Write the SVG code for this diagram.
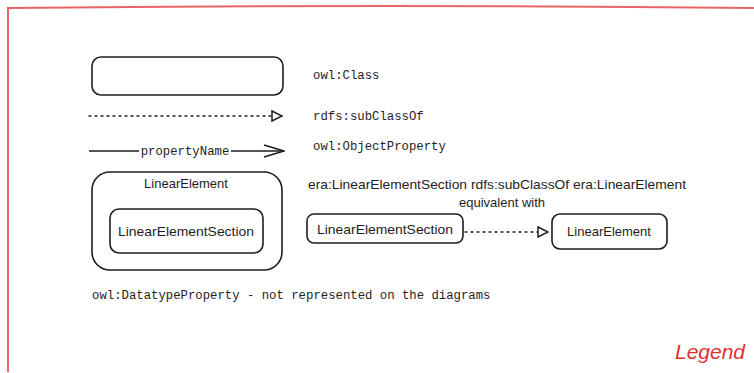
<svg xmlns="http://www.w3.org/2000/svg" width="754" height="373" viewBox="0 0 754 373">
<defs>
<style>
.box{fill:#fff;stroke:#1e1e1e;stroke-width:1.6}
.mono{font-family:"Liberation Mono","DejaVu Sans Mono",monospace;font-size:12.3px;fill:#1e1e1e}
.hand{font-family:"Liberation Sans","DejaVu Sans",sans-serif;font-size:13px;fill:#1e1e1e}
.edge{fill:none;stroke:#1e1e1e;stroke-width:1.4}
.dot{stroke-dasharray:2 4;stroke-linecap:round}
</style>
<marker id="tri" viewBox="0 0 12 12" refX="11" refY="6" markerWidth="12" markerHeight="12" markerUnits="userSpaceOnUse" orient="auto">
<path d="M1,1 L11,6 L1,11 Z" fill="#fff" stroke="#1e1e1e" stroke-width="1.5"/>
</marker>
<marker id="open" viewBox="0 0 22 14" refX="21" refY="7" markerWidth="22" markerHeight="14" markerUnits="userSpaceOnUse" orient="auto">
<path d="M1,1 L21,7 L1,13" fill="none" stroke="#1e1e1e" stroke-width="1.5"/>
</marker>
</defs>
<rect width="754" height="373" fill="#fff"/>
<path id="frame" d="M8,372 L8,8 Q380,4 760,8" fill="none" stroke="#e03131" stroke-opacity="0.75" stroke-width="2"/>
<g id="legend-class">
<rect class="box" x="92" y="57" width="191" height="38" rx="9"/>
</g>
<text class="mono" x="313" y="79">owl:Class</text>
<g id="connectors">
<line class="edge dot" x1="89" y1="116" x2="282" y2="116" marker-end="url(#tri)"/>
<line class="edge" x1="89" y1="151" x2="139" y2="151"/>
<line class="edge" x1="231" y1="151" x2="284" y2="151" marker-end="url(#open)"/>
<line class="edge dot" x1="465" y1="232" x2="548" y2="232" marker-end="url(#tri)"/>
</g>
<text class="mono" x="313" y="120">rdfs:subClassOf</text>
<text class="mono" x="185" y="155" text-anchor="middle">propertyName</text>
<text class="mono" x="313" y="150">owl:ObjectProperty</text>
<g id="LinearElement-outer">
<rect class="box" x="92" y="172" width="190" height="98" rx="18"/>
<text class="hand" x="186" y="188" text-anchor="middle">LinearElement</text>
</g>
<g id="LinearElementSection-inner">
<rect class="box" x="110" y="209" width="153" height="44" rx="9"/>
<text class="hand" x="186" y="236" text-anchor="middle" textLength="136" lengthAdjust="spacingAndGlyphs">LinearElementSection</text>
</g>
<text class="hand" x="497" y="189" text-anchor="middle" textLength="378" lengthAdjust="spacingAndGlyphs">era:LinearElementSection rdfs:subClassOf era:LinearElement</text>
<text class="hand" x="502" y="207" text-anchor="middle">equivalent with</text>
<g id="LinearElementSection">
<rect class="box" x="307" y="214" width="156" height="29" rx="7"/>
<text class="hand" x="385" y="234" text-anchor="middle" textLength="136" lengthAdjust="spacingAndGlyphs">LinearElementSection</text>
</g>
<g id="LinearElement">
<rect class="box" x="552" y="214" width="115" height="35" rx="8"/>
<text class="hand" x="609" y="236" text-anchor="middle">LinearElement</text>
</g>
<text class="mono" x="92" y="299">owl:DatatypeProperty - not represented on the diagrams</text>
<text x="710" y="359" text-anchor="middle" font-family="'Liberation Sans','DejaVu Sans',sans-serif" font-size="21" font-style="italic" fill="#e03131">Legend</text>
</svg>
